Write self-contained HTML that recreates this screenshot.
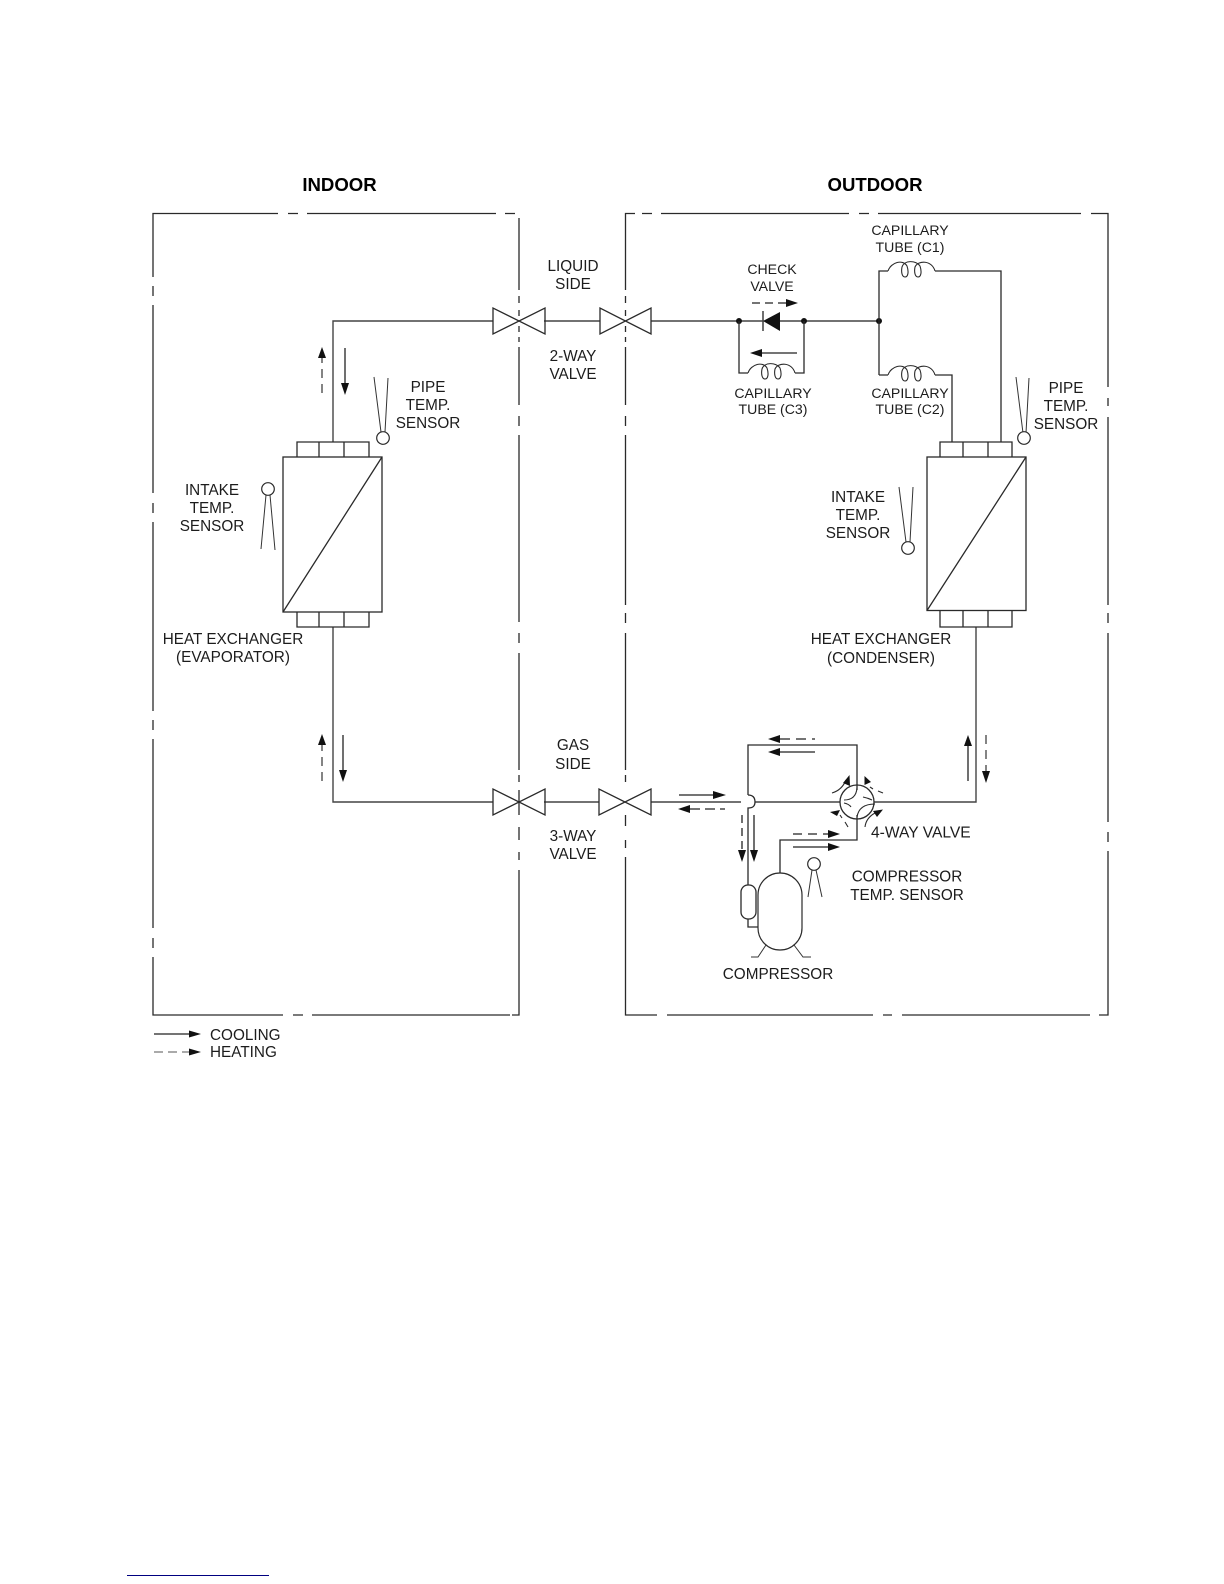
<!DOCTYPE html>
<html><head><meta charset="utf-8"><style>
html,body{margin:0;padding:0;background:#fff;width:1224px;height:1584px;overflow:hidden}
svg{display:block;position:absolute;left:0;top:0}
text{font-family:"Liberation Sans",sans-serif;font-size:15.3px;fill:#1c1c1c;text-anchor:middle}
.c{font-size:14.1px}
.t{font-size:18.6px;font-weight:bold;fill:#000}
.l{fill:none;stroke:#2a2a2a;stroke-width:1.3}
.b{fill:none;stroke:#2a2a2a;stroke-width:1.3}
.p{fill:none;stroke:#444;stroke-width:1.4}
.d{fill:none;stroke:#333;stroke-width:1.2;stroke-dasharray:9 6}
.a{fill:none;stroke:#222;stroke-width:1.3}
.f{fill:#111;stroke:none}
.s{fill:#fff;stroke:#2a2a2a;stroke-width:1.2}
.n{fill:none;stroke:#333;stroke-width:1}
.k{fill:none;stroke:#2a2a2a;stroke-width:1.1}
</style></head><body>
<svg width="1224" height="1584" viewBox="0 0 1224 1584" xmlns="http://www.w3.org/2000/svg">
<text class="t" x="339.5" y="191">INDOOR</text>
<text class="t" x="875" y="191">OUTDOOR</text>

<!-- indoor boundary -->
<path class="b" d="M153 277V213.5H278M288 213.5H298M307 213.5H496M505 213.5H515M519 218V290M519 296V303M519 310V316M519 326V332M519 337V342M519 347V405M519 416V426M519 435V622M519 633V643M519 653V770M519 775V782M519 790V815M519 827V840M519 852V860M519 870V1015H512M510 1015H500M500 1015H312M303 1015H293M283 1015H153V957M153 948V938M153 928V739M153 730V720M153 711V522M153 513V503M153 493V305M153 296V286"/>
<!-- outdoor boundary -->
<path class="b" d="M625.5 290V213.5H635M642 213.5H652M661 213.5H849M859 213.5H869M878 213.5H1081M1091 213.5H1108V387M1108 398V406M1108 417V605M1108 613V623M1108 633V822M1108 832V842M1108 851V1015H1099M1090 1015H902M892 1015H883M873 1015H667M657 1015H625.5V857M625.5 848V840M625.5 826V815M625.5 782V775M625.5 770V633M625.5 623V613M625.5 605V435M625.5 426V416M625.5 405V347M625.5 342V337M625.5 332V326M625.5 316V310M625.5 303V296"/>

<!-- pipes -->
<path class="p" d="M493 321H333V442M544 321H600M651 321H739M804 321H879"/>
<path class="p" d="M333 627V802H493M544 802H599M651 802H741M755 802H840M874 802H976V627"/>
<!-- valves -->
<path class="l" d="M493 308V334L545 308V334ZM600 308V334L651 308V334Z"/>
<path class="l" d="M493 789V815L545 789V815ZM599 789V815L651 789V815Z"/>

<!-- text centre -->
<text x="573" y="271">LIQUID</text><text x="573" y="289">SIDE</text>
<text x="573" y="361">2-WAY</text><text x="573" y="379">VALVE</text>
<text x="573" y="750">GAS</text><text x="573" y="769">SIDE</text>
<text x="573" y="841">3-WAY</text><text x="573" y="859">VALVE</text>

<!-- indoor HX -->
<rect class="l" x="283" y="457" width="99" height="155"/>
<path class="l" d="M283 612L382 457M297 457V442H369V457M319 442V457M344 442V457M297 612V627H369V612M319 612V627M344 612V627"/>
<text x="428" y="392">PIPE</text><text x="428" y="410">TEMP.</text><text x="428" y="428">SENSOR</text>
<text x="212" y="495">INTAKE</text><text x="212" y="513">TEMP.</text><text x="212" y="531">SENSOR</text>
<text x="233" y="644">HEAT EXCHANGER</text><text x="233" y="662">(EVAPORATOR)</text>
<!-- indoor sensors -->
<path class="n" d="M374 377L381 432M388 378L385 432M266 495L261 549M270 495L275 550"/>
<circle class="s" cx="383" cy="438" r="6.3"/><circle class="s" cx="268" cy="489" r="6.3"/>
<!-- indoor arrows -->
<path class="d" d="M322 393V358" stroke-dasharray="8 6"/><path class="f" d="M322 347L326 358H318Z"/>
<path class="a" d="M345 348V385"/><path class="f" d="M345 395L341 383H349Z"/>
<path class="d" d="M322 781V745" stroke-dasharray="8 6"/><path class="f" d="M322 734L326 745H318Z"/>
<path class="a" d="M343 735V772"/><path class="f" d="M343 782L339 770H347Z"/>

<!-- check valve -->
<text class="c" x="772" y="274">CHECK</text><text class="c" x="772" y="291">VALVE</text>
<path class="a" d="M752 303H787" stroke-dasharray="8 5"/><path class="f" d="M798 303L786 299V307Z"/>
<path class="a" d="M763 311V331"/><path class="f" d="M763 321L780 312V331Z"/>
<path class="p" d="M739 321H763M780 321H804"/>
<circle class="f" cx="739" cy="321" r="3"/><circle class="f" cx="804" cy="321" r="3"/><circle class="f" cx="879" cy="321" r="3"/>
<!-- C3 -->
<path class="a" d="M762 353H797"/><path class="f" d="M750 353L762 349V357Z"/>
<path class="l" d="M739 321V373H748M795 373H804V321"/>
<path class="k" d="M748 373C751 364 763 361 767 368C769 374 768 379 765 379C762 379 761 374 762 369C764 362 776 362 780 368C782 374 781 379 778 379C775 379 774 374 775 369C778 362 792 362 795 373"/>
<text class="c" x="773" y="398">CAPILLARY</text><text class="c" x="773" y="414">TUBE (C3)</text>
<!-- C1 C2 -->
<text class="c" x="910" y="235">CAPILLARY</text><text class="c" x="910" y="252">TUBE (C1)</text>
<path class="l" d="M879 375V271H888M935 271H1001V442"/>
<path class="k" transform="translate(140,-102)" d="M748 373C751 364 763 361 767 368C769 374 768 379 765 379C762 379 761 374 762 369C764 362 776 362 780 368C782 374 781 379 778 379C775 379 774 374 775 369C778 362 792 362 795 373"/>
<path class="l" d="M879 375H888M935 375H952V442"/>
<path class="k" transform="translate(140,2)" d="M748 373C751 364 763 361 767 368C769 374 768 379 765 379C762 379 761 374 762 369C764 362 776 362 780 368C782 374 781 379 778 379C775 379 774 374 775 369C778 362 792 362 795 373"/>
<text class="c" x="910" y="398">CAPILLARY</text><text class="c" x="910" y="414">TUBE (C2)</text>

<!-- outdoor HX -->
<rect class="l" x="927" y="457" width="99" height="153.5"/>
<path class="l" d="M927 610.5L1026 457M940 457V442H1012V457M963 442V457M988 442V457M940 610.5V627H1012V610.5M963 610.5V627M988 610.5V627"/>
<text x="1066" y="393">PIPE</text><text x="1066" y="411">TEMP.</text><text x="1066" y="429">SENSOR</text>
<text x="858" y="502">INTAKE</text><text x="858" y="520">TEMP.</text><text x="858" y="538">SENSOR</text>
<text x="881" y="644">HEAT EXCHANGER</text><text x="881" y="663">(CONDENSER)</text>
<path class="n" d="M1016 377L1023 433M1029 378L1026 433M899 487L906 542M913 487L910 542"/>
<circle class="s" cx="1024" cy="438" r="6.3"/><circle class="s" cx="908" cy="548" r="6.3"/>

<!-- right arrows -->
<path class="a" d="M968 781V746"/><path class="f" d="M968 735L972 746H964Z"/>
<path class="d" d="M986 735V773" stroke-dasharray="8 6"/><path class="f" d="M986 783L982 771H990Z"/>

<!-- compressor loop -->
<path class="l" d="M748 795V745H857V790"/>
<path class="l" d="M748 795C754 795 755 799 755 802C755 805 754 808 748 808V885"/>
<path class="l" d="M780 873V840H857V815"/>
<path class="l" d="M748 919V927H758"/>
<rect class="l" x="741" y="885" width="15" height="34" rx="7" ry="7"/>
<rect class="s" x="758" y="873" width="44" height="77" rx="22" ry="22"/>
<path class="n" d="M766 945L758 957H751M794 945L803 957H811"/>
<path class="n" d="M812 870L808 897M816 870L822 897"/>
<circle class="s" cx="814" cy="864" r="6.3"/>

<!-- 4-way valve -->
<circle class="l" cx="857" cy="802" r="17"/>
<path class="k" d="M857 788Q856 800 844 800M844 803Q849 804 851 807M863 797Q868 798 872 800M875 804Q859 804 857 817M832 793Q842 790 846 780M870 787L873 789M878 791L883 793M865 827Q866 818 875 813M840 815L842 818M845 822L848 827"/>
<path class="f" d="M849.5 775L843 783L850 786ZM864.5 776L871 782L864.5 785ZM883 809.500L873 811L877 817ZM830 812L840 810L837 816Z"/>

<!-- flow arrows -->
<path class="a" d="M780 739H815" stroke-dasharray="10 6"/><path class="f" d="M768 739L780 735V743Z"/>
<path class="a" d="M780 752H815"/><path class="f" d="M768 752L780 748V756Z"/>
<path class="a" d="M679 795H714"/><path class="f" d="M726 795L713 791V799Z"/>
<path class="a" d="M690 809H725" stroke-dasharray="10 5"/><path class="f" d="M678 809L690 805V813Z"/>
<path class="a" d="M742 815V851" stroke-dasharray="8 5"/><path class="f" d="M742 862L738 850H746Z"/>
<path class="a" d="M754 815V851"/><path class="f" d="M754 862L750 850H758Z"/>
<path class="a" d="M793 834H829" stroke-dasharray="9 6"/><path class="f" d="M840 834L828 830V838Z"/>
<path class="a" d="M793 847H829"/><path class="f" d="M840 847L828 843V851Z"/>

<text x="871" y="837.500" style="text-anchor:start;font-size:15.6px">4-WAY VALVE</text>
<text x="907" y="881.500">COMPRESSOR</text><text x="907" y="900">TEMP. SENSOR</text>
<text x="778" y="979">COMPRESSOR</text>

<!-- legend -->
<path class="a" d="M154 1034H191"/><path class="f" d="M201 1034L189 1030.500V1037.500Z"/>
<path class="a" d="M154 1052H191" stroke-dasharray="9 5" style="stroke:#777"/><path class="f" d="M201 1052L189 1048.500V1055.500Z"/>
<text x="210" y="1040" style="text-anchor:start">COOLING</text>
<text x="210" y="1057" style="text-anchor:start">HEATING</text>

<rect x="127" y="1575" width="142" height="1" fill="#000080"/>
</svg>
</body></html>
